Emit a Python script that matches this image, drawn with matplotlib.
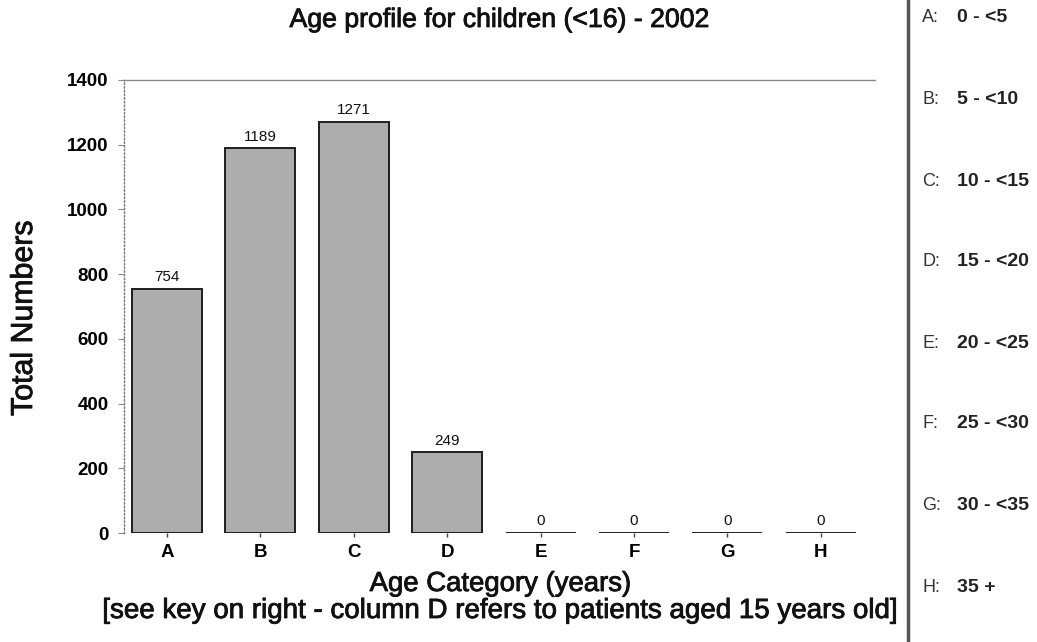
import matplotlib
matplotlib.use("Agg")
import matplotlib.pyplot as plt
import matplotlib.patheffects as pe

categories = ["A", "B", "C", "D", "E", "F", "G", "H"]
values = [754, 1189, 1271, 249, 0, 0, 0, 0]
yticks = [0, 200, 400, 600, 800, 1000, 1200, 1400]
key_letters = ["A:", "B:", "C:", "D:", "E:", "F:", "G:", "H:"]
key_ranges = ["0 - <5", "5 - <10", "10 - <15", "15 - <20",
              "20 - <25", "25 - <30", "30 - <35", "35 +"]

plt.rcParams['font.family'] = ['Liberation Sans', 'DejaVu Sans']

W, H = 1037, 642
fig = plt.figure(figsize=(W / 100, H / 100), dpi=100)
ax = fig.add_axes([124 / W, 1 - 533 / H, (875 - 124) / W, (533 - 80) / H])
renderer = fig.canvas.get_renderer()
heavy = [pe.withStroke(linewidth=0.6, foreground="#111111")]


def fit_width(t, target_px):
    bb = t.get_window_extent(renderer=renderer)
    w = bb.width if t.get_rotation() == 0 else bb.height
    t.set_fontsize(t.get_fontsize() * target_px / w)


x = list(range(len(categories)))
ax.bar(x, values, width=0.75, color="#adadad", edgecolor="#1e1e1e", linewidth=1.4)
for xi, v in zip(x, values):
    ax.text(xi, v + 14, str(v), ha="center", va="bottom", fontsize=11, color="#111111")

ax.set_xlim(-0.46, 7.58)
ax.set_ylim(0, 1400)
ax.set_yticks(yticks)
ax.set_yticklabels([str(t) for t in yticks], fontsize=13.5, fontweight="bold")
ax.set_xticks(x)
ax.set_xticklabels(categories, fontsize=13.5, fontweight="bold")
ax.tick_params(axis="y", length=4, width=0.8, color="#888888", pad=7)
ax.tick_params(axis="x", length=3, width=1.0, color="#444444", pad=5)

ax.spines["right"].set_visible(False)
ax.spines["bottom"].set_visible(False)
ax.spines["left"].set_linestyle(":")
ax.spines["left"].set_color("#777777")
ax.spines["left"].set_linewidth(1.0)
ax.spines["top"].set_color("#888888")
ax.spines["top"].set_linewidth(1.0)

t = fig.text(499 / W, 1 - 20 / H, "Age profile for children (<16) - 2002",
             ha="center", va="center", fontsize=13, color="#111111", path_effects=heavy)
fit_width(t, 420)
t = fig.text(24 / W, 1 - 318 / H, "Total Numbers", ha="center", va="center",
             rotation=90, fontsize=13, color="#111111", path_effects=heavy)
fit_width(t, 195)
t = fig.text(500 / W, 1 - 584 / H, "Age Category (years)", ha="center", va="center",
             fontsize=13, color="#111111", path_effects=heavy)
fit_width(t, 261)
t = fig.text(500 / W, 1 - 611 / H,
             "[see key on right - column D refers to patients aged 15 years old]",
             ha="center", va="center", fontsize=13, color="#111111", path_effects=heavy)
fit_width(t, 794)

# divider line
fig.add_artist(plt.Line2D([908 / W, 908 / W], [0, 1], color="#555555", linewidth=2.5,
                          transform=fig.transFigure))

key_y = [18, 100, 181, 262, 343, 424, 506, 587]
for let, rng, yy in zip(key_letters, key_ranges, key_y):
    fig.text(922 / W, 1 - yy / H, let, ha="left", va="center", fontsize=13,
             color="#333333")
    fig.text(957 / W, 1 - yy / H, rng, ha="left", va="center", fontsize=14,
             fontweight="bold", color="#222222")

fig.savefig("out.png", dpi=100)
